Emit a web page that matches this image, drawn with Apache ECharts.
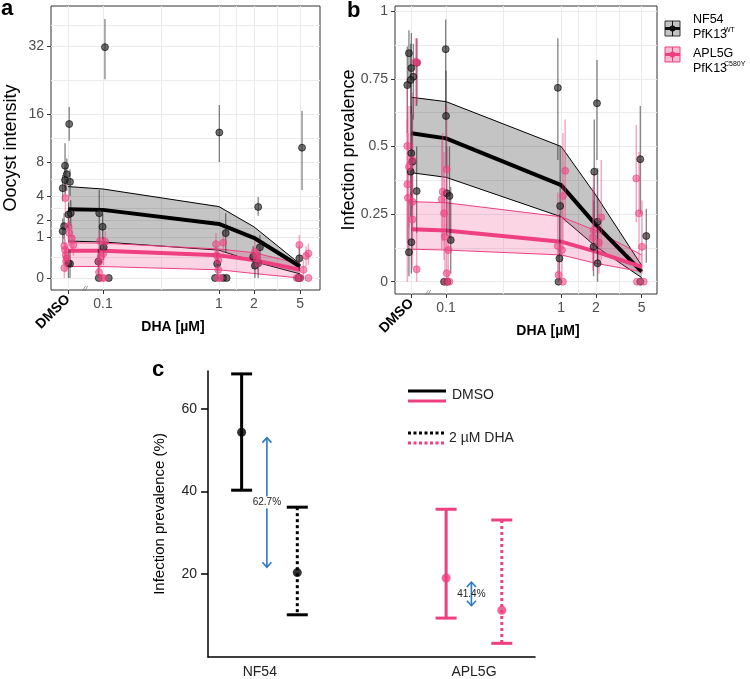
<!DOCTYPE html>
<html><head><meta charset="utf-8">
<script src="https://cdn.jsdelivr.net/npm/echarts@6/dist/echarts.min.js"></script>
<style>html,body{margin:0;padding:0;background:#fff}#c{width:750px;height:679px}</style>
</head><body><div id="c"></div>
<script>
const FONT = '"Liberation Sans", Arial, Helvetica, sans-serif';

// ---------- shared dose axis ----------
const doseLabels = ['DMSO', '0.1', '1', '2', '5'];
const doseValues = [0.05, 0.1, 1, 2, 5];   // DMSO drawn at 0.05 on the log axis

// ---------- panel a: oocyst intensity (points: [doseIdx, jitter(log10), value, lo, hi]) ----------
const aNF54 = [
 [0,0.010,14.1,11.2,17.4],[0,-0.026,7.5,4.8,10.8],[0,-0.011,6.4,4.5,8.5],[0,-0.026,5.7,4.2,7.4],
 [0,0.017,5.5,4.0,7.0],[0,-0.046,4.8,3.5,6.3],[0,0.023,2.5,1.6,3.6],[0,0.004,2.4,1.5,3.4],
 [0,-0.034,1.6,0.9,2.5],[0,-0.046,1.3,0.7,2.1],[0,0.003,0.13,0,0.5],[0,0.017,0.12,0,0.45],
 [1,0.017,31.7,23.5,39.9],[1,-0.032,2.5,0.15,4.6],[1,-0.003,1.56,0.9,2.4],[1,0.006,0.56,0.2,1.0],
 [1,-0.04,0.16,0,0.5],[1,-0.036,0,0,0],[1,0.05,0,0,0],
 [2,0.003,12.6,8.0,17.8],[2,0.058,1.2,0.37,2.5],[2,-0.015,0.12,0,0.4],[2,-0.034,0,0,0],[2,0.037,0,0,0],[2,0.066,0,0,0],
 [3,0.037,3.0,2.3,3.9],[3,0.052,0.56,0.2,1.1],[3,-0.006,0.27,0.05,0.6],[3,0.037,0.13,0,0.4],[3,0.009,0.09,0,0.3],
 [4,0.017,10.1,4.6,16.6],[4,-0.006,0.23,0.03,0.6],[4,-0.015,0,0,0],[4,0,0,0,0]
];
const aAPL5G = [
 [0,-0.023,3.8,2.2,5.5],[0,0.003,1.6,0.8,2.6],[0,0.011,1.2,0.6,2.0],[0,0.032,0.94,0.4,1.6],
 [0,0.046,0.65,0.3,1.1],[0,-0.032,0.61,0.25,1.1],[0,-0.026,0.47,0.15,0.9],[0,-0.02,0.31,0.08,0.7],
 [0,-0.017,0.16,0.02,0.5],[0,-0.032,0.06,0,0.3],[0,-0.011,0.23,0.05,0.6],
 [1,-0.026,0.81,0.4,1.3],[1,0.02,0.78,0.4,1.3],[1,0.003,0.36,0.1,0.8],[1,-0.02,0.27,0.06,0.6],
 [1,-0.034,0.16,0.02,0.4],[1,-0.034,0.02,0,0.15],[1,-0.011,0,0,0],[1,0.009,0,0,0],
 [2,-0.026,0.68,0.3,1.2],[2,0.037,0.74,0.35,1.3],[2,-0.02,0.31,0.1,0.6],[2,-0.006,0.19,0.04,0.45],
 [2,-0.006,0.04,0,0.2],[2,-0.006,0,0,0],[2,0.009,0,0,0],
 [3,0.023,0.31,0.1,0.6],[3,0.009,0.41,0.15,0.8],[3,0.037,0.13,0.02,0.35],[3,0.023,0.23,0.06,0.5],
 [4,-0.006,0.65,0.13,1.1],[4,0.052,0.29,0.08,0.6],[4,0.072,0.36,0.1,0.7],[4,0.029,0.04,0,0.2],
 [4,-0.029,0,0,0],[4,0,0,0,0],[4,0.072,0,0,0]
];
const aNF54Mid = [2.82, 2.76, 1.74, 0.96, 0.078];
const aNF54Lo  = [0.81, 0.77, 0.46, 0.16, 0.01];
const aNF54Hi  = [4.97, 4.71, 3.03, 1.56, 0.116];
const aAPLMid  = [0.44, 0.44, 0.31, 0.19, 0.04];
const aAPLLo   = [0.078, 0.078, 0.04, 0.012, 0.0];
const aAPLHi   = [0.74, 0.72, 0.50, 0.38, 0.12];
const aYTicks  = [0, 1, 2, 4, 8, 16, 32];

// ---------- panel b: infection prevalence ----------
const bNF54 = [
 [0,-0.021,0.845,0.72,0.93],[0,0,0.79,0.62,0.92],[0,0.017,0.758,0.6,0.88],[0,-0.006,0.746,0.58,0.88],
 [0,-0.035,0.727,0.55,0.87],[0,0.046,0.81,0.65,0.9],[0,0,0.475,0.3,0.65],[0,0.009,0.444,0.27,0.62],
 [0,-0.006,0.407,0.24,0.58],[0,0.046,0.335,0.18,0.5],[0,0,0.146,0.03,0.33],[0,-0.021,0.109,0.02,0.3],
 [1,-0.003,0.86,0.6,0.97],[1,0,0.613,0.42,0.78],[1,0.006,0.327,0.17,0.5],[1,0.03,0.317,0.16,0.5],
 [1,0.041,0.154,0.03,0.35],[1,-0.017,0,0,0],[1,0.011,0,0,0],
 [2,-0.029,0.717,0.45,0.9],[2,-0.009,0.28,0.1,0.5],[2,-0.015,0.086,0,0.25],[2,-0.023,0,0,0],
 [3,0.01,0.66,0.45,0.82],[3,-0.014,0.407,0.2,0.6],[3,0.015,0.222,0.08,0.42],[3,-0.02,0.129,0.02,0.3],[3,0.015,0.068,0,0.2],
 [4,-0.012,0.453,0.25,0.65],[4,0.04,0.169,0.07,0.27],[4,-0.012,0,0,0]
];
const bAPL5G = [
 [0,0.037,0.814,0.65,0.9],[0,0.052,0.81,0.66,0.9],[0,-0.035,0.502,0,0.75],[0,0.009,0.45,0.2,0.7],
 [0,-0.021,0.425,0.2,0.65],[0,-0.035,0.36,0.15,0.6],[0,-0.03,0.31,0.1,0.55],[0,0.009,0.296,0.1,0.52],
 [0,0.009,0.23,0.05,0.45],[0,0.046,0.046,0,0.2],
 [1,0.006,0.416,0.2,0.65],[1,-0.029,0.333,0.15,0.55],[1,-0.037,0.305,0.12,0.52],[1,-0.017,0.253,0.08,0.48],
 [1,-0.009,0.166,0.03,0.38],[1,0.02,0.117,0.01,0.3],[1,0.006,0.031,0,0.15],[1,0,0,0,0],[1,0.029,0,0,0],
 [2,0.035,0.41,0.22,0.6],[2,0.015,0.317,0.12,0.55],[2,-0.03,0.132,0.02,0.33],[2,0.006,0.117,0.01,0.3],
 [2,-0.023,0.025,0,0.12],[2,0.015,0,0,0],
 [3,0.047,0.238,0.08,0.45],[3,-0.02,0.191,0.05,0.4],[3,-0.025,0.164,0.04,0.35],[3,0.027,0.144,0.03,0.3],
 [4,-0.047,0.382,0.22,0.58],[4,-0.023,0.253,0.08,0.48],[4,0.003,0.129,0.03,0.3],[4,-0.041,0,0,0],[4,0.017,0,0,0]
];
const bNF54Mid = [0.549, 0.53, 0.357, 0.21, 0.037];
const bNF54Lo  = [0.403, 0.386, 0.24, 0.13, 0.015];
const bNF54Hi  = [0.682, 0.666, 0.50, 0.32, 0.06];
const bAPLMid  = [0.194, 0.189, 0.148, 0.111, 0.055];
const bAPLLo   = [0.12, 0.117, 0.099, 0.068, 0.037];
const bAPLHi   = [0.296, 0.292, 0.24, 0.189, 0.099];
const bYTicks  = [0, 0.25, 0.5, 0.75, 1];

// ---------- panel c: prevalence (%) DMSO vs 2 µM DHA ----------
const cStrains = ['NF54', 'APL5G'];
const cStrainIdx = [0, 0, 1, 1];
const cTreat = ['DMSO', 'DHA', 'DMSO', 'DHA'];
const cMean = [54.3, 20.4, 19.1, 11.3];
const cLo   = [40.3, 10.2, 9.4, 3.3];
const cHi   = [68.4, 36.2, 35.7, 33.1];
const cArrowFrom = [53.0, 18.1];
const cArrowTo   = [21.7, 12.4];
const cArrowText = ['62.7%', '41.4%'];
const cYTicks = [20, 40, 60];

// ---------- styles ----------
const BLACK = '#000', PINK = '#ee3f80';
const GRID_C = '#ebebeb';
const L10 = Math.log10;
const dmsoX = L10(doseValues[0]);
const xMajor = doseValues.slice(1).map(L10);
const xGridVals = [dmsoX, -1, -0.5, 0, 0.15, L10(2), 0.5, L10(5)];
function midpoints(arr, extra) { const o = []; for (let i = 0; i < arr.length - 1; i++) o.push((arr[i] + arr[i+1]) / 2); return o.concat(extra || []); }

const SQ = v => Math.sqrt(Math.max(0, v));
const ID = v => v;
const tx = p => L10(doseValues[p[0]]) + p[1];

function nearestLabel(v, vals, labels) {
  let bi = 0, bd = 1e9;
  vals.forEach((t, i) => { const d = Math.abs(t - v); if (d < bd) { bd = d; bi = i; } });
  return labels[bi];
}

function bandSeries(xi, yi, lo, hi, ty, fill, stroke) {
  const xs = doseValues.map(L10);
  return {
    type: 'custom', xAxisIndex: xi, yAxisIndex: yi, z: 1, silent: true,
    data: xs.map((x, i) => [x, ty(lo[i]), ty(hi[i])]),
    encode: { x: 0, y: [1, 2] },
    renderItem: (params, api) => {
      if (params.dataIndex !== 0) return null;
      const up = [], dn = [];
      for (let i = 0; i < xs.length; i++) {
        up.push(api.coord([xs[i], ty(hi[i])]));
        dn.push(api.coord([xs[i], ty(lo[i])]));
      }
      return { type: 'group', children: [
        { type: 'polygon', shape: { points: up.concat(dn.slice().reverse()) }, style: { fill: fill, stroke: null } },
        { type: 'polyline', shape: { points: up }, style: { stroke: stroke, lineWidth: 1, fill: null } },
        { type: 'polyline', shape: { points: dn }, style: { stroke: stroke, lineWidth: 1, fill: null } }
      ]};
    }
  };
}
function midLine(xi, yi, mid, ty, color, z) {
  return { type: 'line', xAxisIndex: xi, yAxisIndex: yi, z: z, silent: true, showSymbol: false, symbol: 'none',
    data: doseValues.map((d, i) => [L10(d), ty(mid[i])]),
    lineStyle: { color: color, width: 4, join: 'round' } };
}
function errSeries(xi, yi, pts, ty, color, width) {
  return { type: 'custom', xAxisIndex: xi, yAxisIndex: yi, z: 3, silent: true,
    data: pts.filter(p => p[4] > p[3]).map(p => [tx(p), ty(p[3]), ty(p[4])]),
    encode: { x: 0, y: [1, 2] },
    renderItem: (params, api) => {
      const a = api.coord([api.value(0), api.value(1)]);
      const b = api.coord([api.value(0), api.value(2)]);
      return { type: 'line', shape: { x1: a[0], y1: a[1], x2: b[0], y2: b[1] }, style: { stroke: color, lineWidth: width } };
    } };
}
function ptSeries(xi, yi, pts, ty, fill, border) {
  return { type: 'scatter', xAxisIndex: xi, yAxisIndex: yi, z: 4, silent: true, symbolSize: 7,
    data: pts.map(p => [tx(p), ty(p[2])]),
    itemStyle: { color: fill, borderColor: border, borderWidth: 0.8, opacity: 1 } };
}

// ---------- axes ----------
const tickLabelStyle = { color: '#4d4d4d', fontSize: 14, fontFamily: FONT };
const NOLINE = { show: false, onZero: false };
function doseAxes(grid, min, max) {
  return [
    { gridIndex: grid, type: 'value', position: 'bottom', min, max,
      axisLine: NOLINE,
      axisTick: { show: true, length: 4, lineStyle: { color: '#333' }, customValues: xMajor },
      axisLabel: Object.assign({ customValues: xMajor, margin: 7,
        formatter: v => nearestLabel(v, xMajor, doseLabels.slice(1)) }, tickLabelStyle),
      splitLine: { show: false } },
    { gridIndex: grid, type: 'value', position: 'bottom', min, max,
      axisLine: NOLINE,
      axisTick: { show: true, length: 4, lineStyle: { color: '#333' }, customValues: [dmsoX] },
      axisLabel: { customValues: [dmsoX], rotate: 45, margin: 7, formatter: () => doseLabels[0],
        color: '#000', fontSize: 14, fontWeight: 'bold', fontFamily: FONT },
      splitLine: { show: false } },
    { gridIndex: grid, type: 'value', position: 'bottom', min, max,
      axisLine: NOLINE, axisLabel: { show: false },
      axisTick: { show: false, customValues: xGridVals },
      splitLine: { show: true, lineStyle: { color: GRID_C, width: 1 } } }
  ];
}
const aYMajor = aYTicks.map(SQ);
const aYGrid = aYMajor.concat(midpoints(aYMajor, [aYMajor[aYMajor.length-1] + 0.5]));
const bYGrid = bYTicks.concat(midpoints(bYTicks));
function valAxes(grid, min, max, majors, labels, gridVals) {
  return [
    { gridIndex: grid, type: 'value', position: 'left', min, max,
      axisLine: NOLINE,
      axisTick: { show: true, length: 4, lineStyle: { color: '#333' }, customValues: majors },
      axisLabel: Object.assign({ customValues: majors, margin: 7,
        formatter: v => nearestLabel(v, majors, labels) }, tickLabelStyle),
      splitLine: { show: false } },
    { gridIndex: grid, type: 'value', position: 'left', min, max,
      axisLine: NOLINE, axisLabel: { show: false },
      axisTick: { show: false, customValues: gridVals },
      splitLine: { show: true, lineStyle: { color: GRID_C, width: 1 } } }
  ];
}

const xAxes = [].concat(
  doseAxes(0, -1.448, 0.871),     // 0,1,2
  doseAxes(1, -1.443, 0.832),     // 3,4,5
  [{ gridIndex: 2, type: 'value', position: 'bottom', min: 0.758, max: 2.285,   // 6
     axisLine: { show: true, onZero: false, lineStyle: { color: '#000', width: 1.5 } },
     axisTick: { show: false, customValues: [1, 2] },
     axisLabel: { customValues: [1, 2], formatter: v => cStrains[Math.round(v) - 1], margin: 8,
       color: '#222', fontSize: 14, fontFamily: FONT },
     splitLine: { show: false } }]
);
const yAxes = [].concat(
  valAxes(0, -0.293, 6.634, aYMajor, aYTicks.map(String), aYGrid),   // 0,1
  valAxes(1, -0.0455, 1.0196, bYTicks, ['0', '0.25', '0.5', '0.75', '1'], bYGrid), // 2,3
  [{ gridIndex: 2, type: 'value', position: 'left', min: 0, max: 69.1,   // 4
     axisLine: { show: true, onZero: false, lineStyle: { color: '#000', width: 1.5 } },
     axisTick: { show: true, length: 7, lineStyle: { color: '#000', width: 1.5 }, customValues: cYTicks },
     axisLabel: { customValues: cYTicks, margin: 11, color: '#222', fontSize: 14, fontFamily: FONT },
     splitLine: { show: false } }]
);

// ---------- panel c series ----------
const cGroupCenter = [1.045, 2.0];
const cDodge = 0.13;
const cX = cStrainIdx.map((s, i) => cGroupCenter[s] + (cTreat[i] === 'DMSO' ? -cDodge : cDodge));
const cColor = i => cStrainIdx[i] === 0 ? BLACK : PINK;

const cErr = { type: 'custom', xAxisIndex: 6, yAxisIndex: 4, z: 3, silent: true,
  data: cX.map((x, i) => [x, cLo[i], cHi[i]]),
  encode: { x: 0, y: [1, 2] },
  renderItem: (params, api) => {
    const i = params.dataIndex;
    const col = cColor(i), dash = cTreat[i] === 'DHA' ? [3, 3] : null;
    const t = api.coord([api.value(0), api.value(2)]);
    const b = api.coord([api.value(0), api.value(1)]);
    const cw = 10.5;
    return { type: 'group', children: [
      { type: 'line', shape: { x1: t[0], y1: t[1], x2: b[0], y2: b[1] }, style: { stroke: col, lineWidth: 3, lineDash: dash } },
      { type: 'line', shape: { x1: t[0]-cw, y1: t[1], x2: t[0]+cw, y2: t[1] }, style: { stroke: col, lineWidth: 3 } },
      { type: 'line', shape: { x1: b[0]-cw, y1: b[1], x2: b[0]+cw, y2: b[1] }, style: { stroke: col, lineWidth: 3 } }
    ]};
  } };
const cPts = { type: 'scatter', xAxisIndex: 6, yAxisIndex: 4, z: 4, silent: true, symbolSize: 9,
  data: cX.map((x, i) => ({ value: [x, cMean[i]], itemStyle: { color: cColor(i) } })) };
const cArrows = { type: 'custom', xAxisIndex: 6, yAxisIndex: 4, z: 5, silent: true,
  data: cGroupCenter.map((x, i) => [x - 0.012, cArrowFrom[i], cArrowTo[i]]),
  encode: { x: 0, y: [1, 2] },
  renderItem: (params, api) => {
    const i = params.dataIndex;
    const a = api.coord([api.value(0), api.value(1)]);
    const b = api.coord([api.value(0), api.value(2)]);
    const col = '#2a78c6', hw = 4.5, hh = 5;
    const mid = (a[1] + b[1]) / 2;
    return { type: 'group', children: [
      { type: 'line', shape: { x1: a[0], y1: a[1], x2: b[0], y2: b[1] }, style: { stroke: col, lineWidth: 1.6 } },
      { type: 'polyline', shape: { points: [[a[0]-hw, a[1]+hh], [a[0], a[1]], [a[0]+hw, a[1]+hh]] }, style: { stroke: col, lineWidth: 1.6, fill: null } },
      { type: 'polyline', shape: { points: [[b[0]-hw, b[1]-hh], [b[0], b[1]], [b[0]+hw, b[1]-hh]] }, style: { stroke: col, lineWidth: 1.6, fill: null } },
      { type: 'text', x: a[0], y: mid, style: { text: cArrowText[i], font: '10px ' + FONT, fill: '#222',
        align: 'center', verticalAlign: 'middle', backgroundColor: i === 0 ? '#fff' : null, padding: [1, 0] } }
    ]};
  } };

// ---------- graphics (titles, legends, panel letters) ----------
function T(x, y, s, font, o) {
  o = o || {};
  return { type: 'text', x: x, y: y, rotation: o.rot || 0, silent: true, z: 100,
    style: { text: s, font: font, fill: o.fill || '#000', align: o.align || 'center', verticalAlign: o.va || 'middle' } };
}
function L(x1, y1, x2, y2, col, w, dash) {
  return { type: 'line', silent: true, z: 100, shape: { x1, y1, x2, y2 }, style: { stroke: col, lineWidth: w, lineDash: dash || null } };
}
function swatch(x, y, fill, edge, line) {
  return [
    { type: 'rect', silent: true, z: 100, shape: { x: x, y: y, width: 15, height: 15 }, style: { fill: fill, stroke: edge, lineWidth: 1 } },
    L(x + 7.5, y, x + 7.5, y + 15, line, 1),
    L(x, y + 7.5, x + 15, y + 7.5, line, 3),
    { type: 'circle', silent: true, z: 101, shape: { cx: x + 7.5, cy: y + 7.5, r: 3 }, style: { fill: line } }
  ];
}
const graphics = [
  T(1, 9, 'a', 'bold 22px ' + FONT, { align: 'left' }),
  T(347, 11, 'b', 'bold 22px ' + FONT, { align: 'left' }),
  T(152, 370, 'c', 'bold 22px ' + FONT, { align: 'left' }),
  T(11, 148, 'Oocyst intensity', '18px ' + FONT, { rot: Math.PI / 2 }),
  T(349, 150, 'Infection prevalence', '18px ' + FONT, { rot: Math.PI / 2 }),
  T(160, 514, 'Infection prevalence (%)', '15px ' + FONT, { rot: Math.PI / 2 }),
  T(173, 327, 'DHA [µM]', 'bold 14px ' + FONT),
  T(548, 331, 'DHA [µM]', 'bold 14px ' + FONT),
  T(85, 289, '//', 'italic 8px ' + FONT, { fill: '#666' }),
  T(428, 293, '//', 'italic 8px ' + FONT, { fill: '#666' }),
  // legend a/b
  T(693, 20, 'NF54', '12.5px ' + FONT, { align: 'left' }),
  T(693, 35, 'PfK13', '12.5px ' + FONT, { align: 'left' }),
  T(724, 30, 'WT', '7px ' + FONT, { align: 'left' }),
  T(693, 54, 'APL5G', '12.5px ' + FONT, { align: 'left' }),
  T(693, 69, 'PfK13', '12.5px ' + FONT, { align: 'left' }),
  T(724, 64, 'C580Y', '7px ' + FONT, { align: 'left' }),
  // legend c
  L(408, 391, 446, 391, BLACK, 3), L(408, 401, 446, 401, PINK, 3),
  L(408, 433, 444, 433, BLACK, 3, [3, 2.5]), L(408, 443, 444, 443, PINK, 3, [3, 2.5]),
  T(452, 395, 'DMSO', '14px ' + FONT, { align: 'left', fill: '#222' }),
  T(449, 438, '2 µM DHA', '14px ' + FONT, { align: 'left', fill: '#222' })
].concat(swatch(665, 21, '#c4c4c4', '#333', '#111'), swatch(665, 47, '#f5bcd0', PINK, PINK));

const option = {
  animation: false,
  backgroundColor: '#fff',
  textStyle: { fontFamily: FONT },
  grid: [
    { left: 51, top: 6, width: 269, height: 284, show: true, borderColor: '#333', borderWidth: 1, backgroundColor: '#fff' },
    { left: 395, top: 6, width: 262, height: 288, show: true, borderColor: '#333', borderWidth: 1, backgroundColor: '#fff' },
    { left: 208, top: 371, width: 327, height: 287, show: false }
  ],
  xAxis: xAxes,
  yAxis: yAxes,
  series: [
    bandSeries(0, 0, aNF54Lo, aNF54Hi, SQ, 'rgba(0,0,0,0.23)', '#000'),
    bandSeries(0, 0, aAPLLo, aAPLHi, SQ, 'rgba(238,63,128,0.22)', PINK),
    midLine(0, 0, aNF54Mid, SQ, BLACK, 2),
    midLine(0, 0, aAPLMid, SQ, PINK, 2),
    errSeries(0, 0, aNF54, SQ, 'rgba(30,30,30,0.55)', 1.3),
    errSeries(0, 0, aAPL5G, SQ, 'rgba(238,63,128,0.45)', 1.5),
    ptSeries(0, 0, aNF54, SQ, 'rgba(40,40,40,0.65)', 'rgba(0,0,0,0.75)'),
    ptSeries(0, 0, aAPL5G, SQ, 'rgba(238,63,128,0.55)', 'rgba(238,63,128,0.75)'),

    bandSeries(3, 2, bNF54Lo, bNF54Hi, ID, 'rgba(0,0,0,0.23)', '#000'),
    bandSeries(3, 2, bAPLLo, bAPLHi, ID, 'rgba(238,63,128,0.22)', PINK),
    midLine(3, 2, bNF54Mid, ID, BLACK, 2),
    midLine(3, 2, bAPLMid, ID, PINK, 2),
    errSeries(3, 2, bNF54, ID, 'rgba(30,30,30,0.55)', 1.3),
    errSeries(3, 2, bAPL5G, ID, 'rgba(238,63,128,0.45)', 1.5),
    ptSeries(3, 2, bNF54, ID, 'rgba(40,40,40,0.65)', 'rgba(0,0,0,0.75)'),
    ptSeries(3, 2, bAPL5G, ID, 'rgba(238,63,128,0.55)', 'rgba(238,63,128,0.75)'),

    cErr, cPts, cArrows
  ],
  graphic: graphics
};
const chart = echarts.init(document.getElementById('c'), null, { renderer: 'canvas' });
chart.setOption(option);
</script></body></html>
